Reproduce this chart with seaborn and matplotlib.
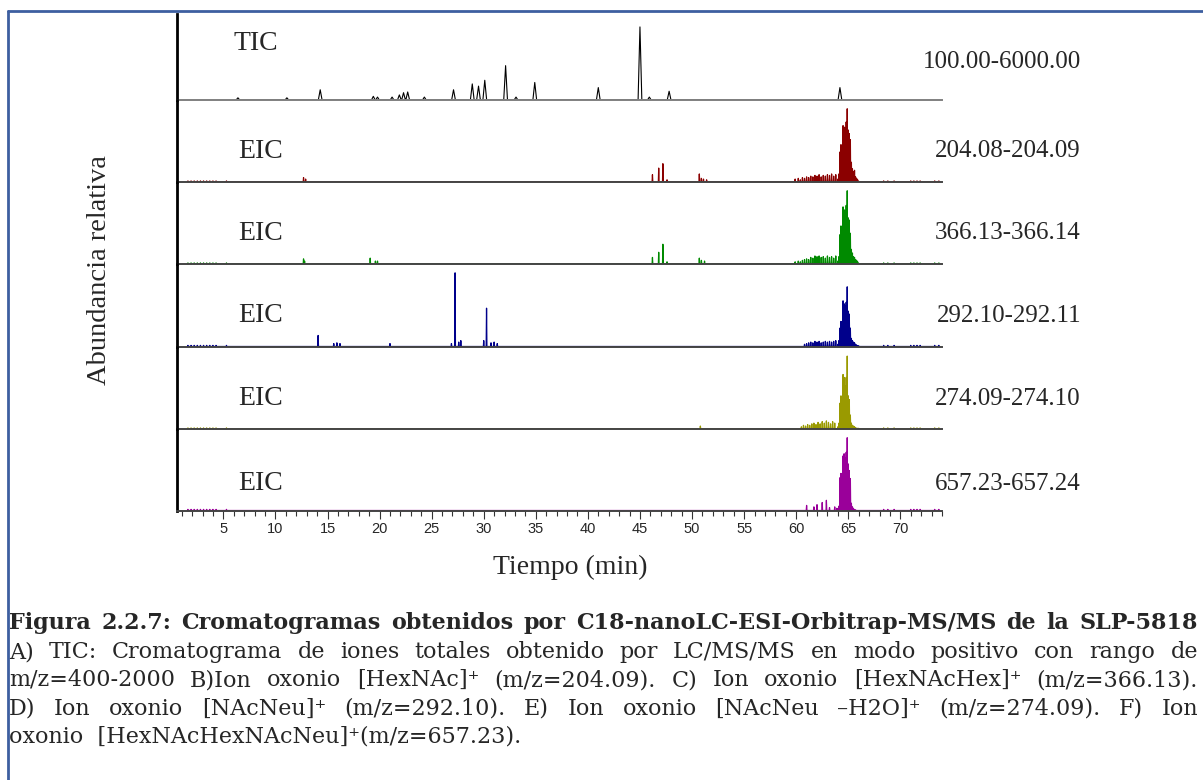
import numpy as np
import pandas as pd
import matplotlib
matplotlib.use("Agg")
import matplotlib.pyplot as plt
import seaborn as sns
from matplotlib.lines import Line2D
from matplotlib.ticker import MultipleLocator

# ---------------- data ----------------
x_major_ticks = [5, 10, 15, 20, 25, 30, 35, 40, 45, 50, 55, 60, 65, 70]
trace_names = ["TIC", "EIC", "EIC", "EIC", "EIC", "EIC"]
mz_ranges = ["100.00-6000.00", "204.08-204.09", "366.13-366.14",
             "292.10-292.11", "274.09-274.10", "657.23-657.24"]
trace_colors = ["#000000", "#8B0000", "#008A00", "#00008B", "#9A9A00", "#9A009A"]

# TIC peaks (time in min, relative intensity %)
tic_time = [6.4, 11.1, 14.3, 19.4, 19.8, 21.2, 21.9, 22.3, 22.7, 24.3, 27.1,
            28.9, 29.5, 30.1, 32.1, 33.1, 34.9, 41.0, 45.0, 45.9, 47.8, 64.2]
tic_int = [3, 3, 14, 5, 4, 4, 7, 10, 11, 4, 14,
           22, 19, 27, 47, 4, 24, 17, 100, 4, 12, 17]

# low-level baseline noise common to EIC traces
noise_time = [1.6, 1.9, 2.2, 2.5, 2.8, 3.1, 3.4, 3.7, 4.0, 4.3, 5.3,
              68.4, 68.8, 69.4, 71.0, 71.3, 71.6, 71.9, 73.3, 73.7]
noise_int = [1.5, 1.5, 1.5, 1.5, 1.5, 1.5, 1.5, 1.5, 1.5, 1.5, 1.5,
             1.5, 1.5, 1.5, 1.5, 1.5, 1.5, 1.5, 1.5, 1.5]

# main glycopeptide elution cluster
cluster_time = [64.0, 64.1, 64.2, 64.3, 64.4, 64.5, 64.6, 64.7, 64.8, 64.9, 65.0,
                65.1, 65.2, 65.3, 65.4, 65.5, 65.6, 65.7, 65.8, 65.9, 66.0]

# EIC 204.08-204.09
eic204_time = [12.7, 12.9, 46.2, 46.8, 47.2, 47.6, 50.7, 50.9, 51.1, 51.4,
               59.9, 60.2, 60.4, 60.6, 60.8, 61.0, 61.2, 61.4, 61.6, 61.8,
               62.0, 62.2, 62.4, 62.6, 62.8, 63.0, 63.2, 63.4, 63.6, 63.8]
eic204_int = [6, 4, 10, 19, 25, 3, 11, 5, 4, 3,
              4, 5, 3, 6, 5, 7, 6, 8, 7, 9,
              8, 10, 7, 9, 8, 10, 9, 11, 8, 10]
eic204_cluster = [4, 11, 41, 51, 49, 77, 75, 74, 82, 100, 71,
                  66, 58, 27, 18, 14, 16, 7, 5, 3, 1]

# EIC 366.13-366.14
eic366_time = [12.7, 12.8, 19.1, 19.6, 19.8, 46.2, 46.8, 47.2, 47.6, 50.7, 50.9, 51.2,
               59.9, 60.2, 60.4, 60.6, 60.8, 61.0, 61.2, 61.4, 61.6, 61.8,
               62.0, 62.2, 62.4, 62.6, 62.8, 63.0, 63.2, 63.4, 63.6, 63.8]
eic366_int = [7, 4, 8, 4, 4, 9, 16, 27, 3, 8, 5, 4,
              3, 4, 3, 5, 6, 7, 6, 9, 8, 11,
              10, 11, 9, 10, 8, 11, 9, 10, 8, 11]
eic366_cluster = [4, 10, 40, 52, 50, 78, 74, 72, 80, 100, 63,
                  60, 42, 20, 15, 10, 9, 6, 5, 3, 1]

# EIC 292.10-292.11
eic292_time = [14.1, 15.6, 15.9, 16.2, 21.0, 26.9, 27.25, 27.6, 27.8,
               30.0, 30.27, 30.7, 31.0, 31.3,
               60.8, 61.0, 61.2, 61.4, 61.6, 61.8, 62.0, 62.2, 62.4,
               62.6, 62.8, 63.0, 63.2, 63.4, 63.6, 63.8]
eic292_int = [15, 4, 5, 4, 4, 4, 100, 6, 8,
              8, 52, 5, 6, 4,
              3, 4, 5, 6, 5, 7, 6, 7, 5,
              6, 7, 6, 7, 6, 7, 8]
eic292_cluster = [3, 8, 25, 34, 33, 62, 58, 55, 60, 81, 48,
                  44, 25, 11, 8, 6, 5, 3, 2, 1, 1]

# EIC 274.09-274.10
eic274_time = [50.8, 60.5, 60.7, 60.9, 61.1, 61.3, 61.5, 61.7, 61.9, 62.1,
               62.3, 62.5, 62.7, 62.9, 63.1, 63.3, 63.5, 63.7]
eic274_int = [4, 3, 5, 4, 6, 5, 7, 8, 6, 9,
              7, 10, 8, 11, 9, 7, 10, 8]
eic274_cluster = [3, 8, 35, 45, 44, 74, 70, 59, 70, 99, 45,
                  40, 19, 8, 5, 4, 3, 2, 1, 1, 1]

# EIC 657.23-657.24
eic657_time = [61.0, 61.7, 62.0, 62.5, 62.9, 63.2, 63.7, 63.9]
eic657_int = [7, 5, 8, 11, 14, 4, 5, 3]
eic657_cluster = [2, 6, 45, 51, 50, 75, 78, 72, 80, 100, 64,
                  55, 44, 10, 5, 3, 1, 1, 0, 0, 0]

eic_times = [eic204_time, eic366_time, eic292_time, eic274_time, eic657_time]
eic_ints = [eic204_int, eic366_int, eic292_int, eic274_int, eic657_int]
eic_clusters = [eic204_cluster, eic366_cluster, eic292_cluster, eic274_cluster, eic657_cluster]

caption_title = "Figura 2.2.7: Cromatogramas obtenidos por C18-nanoLC-ESI-Orbitrap-MS/MS de la SLP-5818"
caption_lines = [
    "A) TIC: Cromatograma de iones totales obtenido por LC/MS/MS en modo positivo con rango de",
    "m/z=400-2000 B)Ion oxonio [HexNAc]\u207a (m/z=204.09). C) Ion oxonio [HexNAcHex]\u207a (m/z=366.13).",
    "D) Ion oxonio [NAcNeu]\u207a (m/z=292.10). E) Ion oxonio [NAcNeu \u2013H2O]\u207a (m/z=274.09). F) Ion",
]
caption_last = "oxonio  [HexNAcHexNAcNeu]\u207a(m/z=657.23)."

# ---------------- helpers ----------------
def profile(times, ints, hw):
    rows = []
    for t, h in sorted(zip(times, ints)):
        rows += [(t - hw, 0.0), (t, float(h)), (t + hw, 0.0)]
    return pd.DataFrame(rows, columns=["time", "intensity"])

# ---------------- figure ----------------
sns.set_theme(style="white")
SERIF = "Liberation Serif"
CAPF = "DejaVu Serif"
plt.rcParams["font.family"] = SERIF

W, H = 1203, 780
fig = plt.figure(figsize=(W / 100, H / 100), dpi=100)
fig.patch.set_facecolor("white")

ax_left, ax_right = 177, 942
tops = [14.5, 100, 182, 264, 346.5, 429]
bottoms = [100, 182, 264, 346.5, 429, 510.5]
label_y = [44, 151, 233, 316, 399, 484]
range_y = [62, 151, 233, 316, 399, 484]

axes = []
for i in range(6):
    ax = fig.add_axes([ax_left / W, 1 - bottoms[i] / H,
                       (ax_right - ax_left) / W, (bottoms[i] - tops[i]) / H])
    axes.append(ax)
    if i == 0:
        df = profile(tic_time, tic_int, 0.18)
        sns.lineplot(data=df, x="time", y="intensity", ax=ax, color=trace_colors[0],
                     lw=0.8, estimator=None, sort=False, legend=False)
        ax.set_ylim(0, 117)
    else:
        k = i - 1
        times = list(eic_times[k]) + list(cluster_time) + list(noise_time)
        ints = list(eic_ints[k]) + list(eic_clusters[k]) + list(noise_int)
        df = profile(times, ints, 0.035)
        sns.lineplot(data=df, x="time", y="intensity", ax=ax, color=trace_colors[i],
                     lw=0.9, estimator=None, sort=False, legend=False)
        ax.set_ylim(0, 112)
    ax.set_xlim(0.55, 74.0)
    ax.set_xlabel("")
    ax.set_ylabel("")
    ax.set_facecolor("none")
    ax.set_yticks([])
    for s in ["top", "right"]:
        ax.spines[s].set_visible(False)
    ax.spines["left"].set_color("black")
    ax.spines["left"].set_linewidth(2.0)
    ax.spines["bottom"].set_color("#808080" if i == 0 else "#444444")
    ax.spines["bottom"].set_linewidth(1.4)
    if i < 5:
        ax.set_xticks([])
    else:
        ax.set_xticks(x_major_ticks)
        ax.xaxis.set_minor_locator(MultipleLocator(1))
        ax.tick_params(axis="x", which="major", direction="out", length=6.0, width=0.8,
                       color="#333333", bottom=True, pad=2.5, labelsize=10.5)
        ax.tick_params(axis="x", which="minor", direction="out", length=3.8, width=0.8,
                       color="#333333", bottom=True)
        for lab in ax.get_xticklabels():
            lab.set_fontfamily("Liberation Sans")
    fig.text(238 / W if i else 234 / W, 1 - label_y[i] / H, trace_names[i],
             fontsize=20, ha="left", va="center", family=SERIF)
    fig.text(1081 / W, 1 - range_y[i] / H, mz_ranges[i],
             fontsize=18, ha="right", va="center", family=SERIF)

fig.text(100 / W, 1 - 270 / H, "Abundancia relativa", rotation=90,
         fontsize=20.5, ha="center", va="center", family=SERIF)
fig.text(570 / W, 1 - 567 / H, "Tiempo (min)",
         fontsize=20, ha="center", va="center", family=SERIF)

# frame (top and left border)
frame_c = "#3D5FA0"
fig.add_artist(Line2D([8 / W, 1.0], [1 - 11 / H, 1 - 11 / H], transform=fig.transFigure,
                      color=frame_c, lw=2.0))
fig.add_artist(Line2D([8 / W, 8 / W], [0, 1 - 11 / H], transform=fig.transFigure,
                      color=frame_c, lw=2.0))

# caption
renderer = fig.canvas.get_renderer()
cap_l, cap_r = 9, 1198
target = cap_r - cap_l

def text_width(s, size, weight="normal"):
    t = fig.text(0, 0, s, fontsize=size, family=CAPF, weight=weight)
    w = t.get_window_extent(renderer).width
    t.remove()
    return w

title_size = min(16.0, 10 * target / text_width(caption_title, 10, "bold"))
body_size = 16.0
for ln in caption_lines:
    body_size = min(body_size, 10 * target * 0.97 / text_width(ln, 10))

def justify(line, ypx, size, weight="normal"):
    words = line.split(" ")
    texts = [fig.text(0, 1 - ypx / H, wd, fontsize=size, family=CAPF, weight=weight,
                      ha="left", va="center") for wd in words]
    widths = [t.get_window_extent(renderer).width for t in texts]
    gap = (target - sum(widths)) / max(len(words) - 1, 1)
    x = cap_l
    for t, wd in zip(texts, widths):
        t.set_x(x / W)
        x += wd + gap

justify(caption_title, 623, title_size, weight="bold")
for ln, ypx in zip(caption_lines, [652, 680, 709]):
    justify(ln, ypx, body_size)
fig.text(cap_l / W, 1 - 737 / H, caption_last, fontsize=body_size, family=CAPF,
         ha="left", va="center")

fig.savefig("out.png", dpi=100, facecolor="white")
